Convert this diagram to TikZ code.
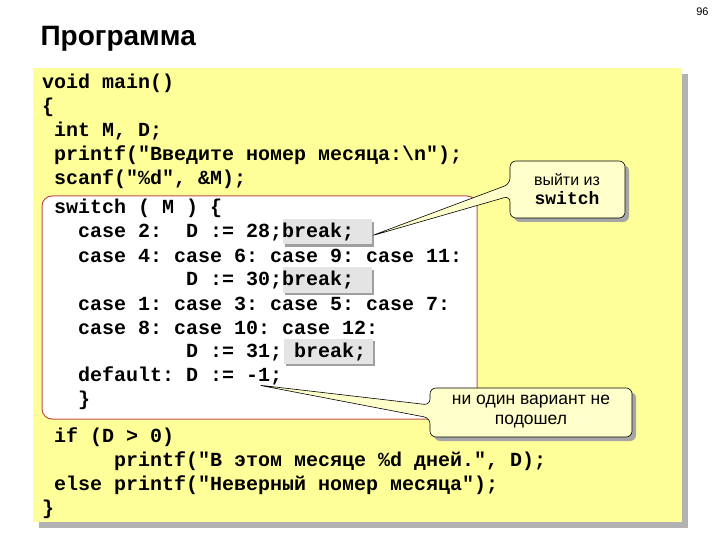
\documentclass[tikz,border=0pt]{standalone}
\usepackage{fontspec}
\setmainfont{Liberation Sans}
\newfontfamily\codef{Liberation Mono}[BoldFont={Liberation Mono Bold}]
\definecolor{bgy}{HTML}{FFFF99}
\definecolor{cly}{HTML}{FFFFCC}
\definecolor{brk}{HTML}{E4E4E4}
\definecolor{redb}{HTML}{C0504D}
\frenchspacing
\begin{document}
\begin{tikzpicture}[x=1bp,y=-1bp,
  cl/.style={anchor=west,inner sep=0pt,font=\codef\bfseries\fontsize{20bp}{20bp}\selectfont},
  brkbox/.style={fill=brk,inner sep=0pt,minimum width=89bp,minimum height=25bp},
  callout/.style={fill=cly,draw=black,line width=0.6bp,rounded corners=6bp},
  shadow/.style={fill=gray!70,rounded corners=6bp}]
\useasboundingbox (0,0) rectangle (720,540);
\node[anchor=east,font=\fontsize{11bp}{11bp}\selectfont] (pg) at (712,12) {96};
\node[anchor=west,font=\bfseries\fontsize{28bp}{28bp}\selectfont] (title) at (37,39) {Программа};
% main box
\fill[gray!60] (39,74) rectangle (688,528);
\fill[bgy] (33,68) rectangle (682,522);
% switch box
\draw[redb,fill=white,line width=1bp,rounded corners=10bp] (42,196) rectangle (477,419);
% break boxes
\foreach \n/\xx/\yy in {b1/283/232, b2/283/280, b3/284/351}{
  \fill[gray!75] (\xx+2,\yy-10) rectangle (\xx+91,\yy+15);
  \node[brkbox] (\n) at (\xx+44.5,\yy) {};
}
% code
\node[cl] (l1) at (42,83) {void main()};
\node[cl] (l2) at (42,107) {\{};
\node[cl] (l3) at (54,131) {int M, D;};
\node[cl] (l4) at (54,155) {printf("Введите номер месяца:\textbackslash n");};
\node[cl] (l5) at (54,179) {scanf("\%d", \&M);};
\node[cl] (l6) at (54,208) {switch ( M ) \{};
\node[cl] (l7) at (78,232) {case 2:\space\space D := 28;break;};
\node[cl] (l8) at (78,256) {case 4: case 6: case 9: case 11:};
\node[cl] (l9) at (186,280) {D := 30;break;};
\node[cl] (l10) at (78,304) {case 1: case 3: case 5: case 7:};
\node[cl] (l11) at (78,328) {case 8: case 10: case 12:};
\node[cl] (l12) at (186,352) {D := 31;\space break;};
\node[cl] (l13) at (78,376) {default: D := -1;};
\node[cl] (l14) at (78,400) {\}};
\node[cl] (l15) at (54,437) {if (D > 0)};
\node[cl] (l16) at (114,461) {printf("В этом месяце \%d дней.", D);};
\node[cl] (l17) at (54,485) {else printf("Неверный номер месяца");};
\node[cl] (l18) at (42,509) {\}};
% callout 1
\coordinate (t1) at (371,236);
\fill[shadow] (514,165) rectangle (629,222);
\draw[callout] (t1) -- (510,184) -- (510,161) -- (625,161) -- (625,218) -- (510,218) -- (510,196) -- cycle;
\node[align=center,inner sep=0pt,font=\fontsize{16bp}{22bp}\selectfont] (c1) at (567,189) {выйти из\\[-3bp]{\codef\bfseries\fontsize{18bp}{18bp}\selectfont switch}};
% callout 2
\coordinate (t2) at (258,385);
\fill[shadow] (434,392) rectangle (636,441);
\draw[callout] (t2) -- (430,405) -- (430,388) -- (632,388) -- (632,437) -- (430,437) -- (430,418) -- cycle;
\node[align=center,inner sep=0pt,font=\fontsize{17.5bp}{20bp}\selectfont] (c2) at (531,412) {ни один вариант не\\подошел};
\end{tikzpicture}
\end{document}
